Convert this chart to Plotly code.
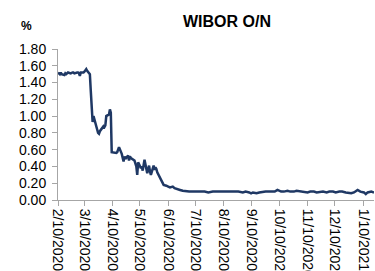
import plotly.graph_objects as go

dates = [
    "2020-02-10", "2020-02-11", "2020-02-12", "2020-02-13", "2020-02-14",
    "2020-02-17", "2020-02-18", "2020-02-19", "2020-02-20", "2020-02-21",
    "2020-02-24", "2020-02-25", "2020-02-26", "2020-02-27", "2020-02-28",
    "2020-03-02", "2020-03-03", "2020-03-04", "2020-03-05", "2020-03-06",
    "2020-03-09", "2020-03-10", "2020-03-11", "2020-03-12", "2020-03-13",
    "2020-03-16", "2020-03-17", "2020-03-18", "2020-03-19", "2020-03-20",
    "2020-03-23", "2020-03-24", "2020-03-25", "2020-03-26", "2020-03-27",
    "2020-03-30", "2020-03-31", "2020-04-01", "2020-04-02", "2020-04-03",
    "2020-04-06", "2020-04-07", "2020-04-08", "2020-04-09", "2020-04-14",
    "2020-04-15", "2020-04-16", "2020-04-17", "2020-04-20", "2020-04-21",
    "2020-04-22", "2020-04-23", "2020-04-24", "2020-04-27", "2020-04-28",
    "2020-04-29", "2020-04-30", "2020-05-04", "2020-05-05", "2020-05-06",
    "2020-05-07", "2020-05-08", "2020-05-11", "2020-05-12", "2020-05-13",
    "2020-05-14", "2020-05-15", "2020-05-18", "2020-05-19", "2020-05-20",
    "2020-05-21", "2020-05-22", "2020-05-25", "2020-05-26", "2020-05-27",
    "2020-05-28", "2020-05-29", "2020-06-01", "2020-06-02", "2020-06-03",
    "2020-06-04", "2020-06-05", "2020-06-08", "2020-06-09", "2020-06-10",
    "2020-06-12", "2020-06-15", "2020-06-17", "2020-06-19", "2020-06-23",
    "2020-06-26", "2020-06-30", "2020-07-03", "2020-07-07", "2020-07-10",
    "2020-07-15", "2020-07-20", "2020-07-24", "2020-07-29", "2020-08-03",
    "2020-08-07", "2020-08-12", "2020-08-18", "2020-08-21", "2020-08-26",
    "2020-08-31", "2020-09-03", "2020-09-07", "2020-09-09", "2020-09-11",
    "2020-09-15", "2020-09-18", "2020-09-22", "2020-09-25", "2020-09-30",
    "2020-10-05", "2020-10-08", "2020-10-12", "2020-10-15", "2020-10-19",
    "2020-10-22", "2020-10-26", "2020-10-29", "2020-11-03", "2020-11-06",
    "2020-11-10", "2020-11-13", "2020-11-17", "2020-11-20", "2020-11-24",
    "2020-11-27", "2020-12-01", "2020-12-04", "2020-12-08", "2020-12-11",
    "2020-12-15", "2020-12-18", "2020-12-22", "2020-12-28", "2020-12-31",
    "2021-01-04", "2021-01-07", "2021-01-11", "2021-01-13", "2021-01-15",
    "2021-01-19", "2021-01-22",
]

wibor_on = [
    1.50, 1.51, 1.50, 1.52, 1.50,
    1.49, 1.51, 1.50, 1.51, 1.52,
    1.51, 1.52, 1.52, 1.52, 1.51,
    1.52, 1.52, 1.51, 1.48, 1.52,
    1.52, 1.53, 1.54, 1.56, 1.54,
    1.50, 1.30, 1.00, 0.93, 1.00,
    0.90, 0.84, 0.80, 0.79, 0.82,
    0.86, 0.88, 0.87, 0.89, 1.00,
    1.02, 1.08, 1.04, 0.57, 0.56,
    0.57, 0.60, 0.63, 0.55, 0.50,
    0.46, 0.52, 0.49, 0.53, 0.47,
    0.52, 0.50, 0.47, 0.44, 0.40,
    0.30, 0.45, 0.38, 0.40, 0.35,
    0.42, 0.48, 0.32, 0.36, 0.41,
    0.34, 0.30, 0.41, 0.36, 0.39,
    0.37, 0.33, 0.26, 0.23, 0.21,
    0.19, 0.18, 0.17, 0.16, 0.16,
    0.15, 0.16, 0.14, 0.13, 0.12,
    0.11, 0.10, 0.10, 0.10, 0.10,
    0.10, 0.10, 0.09, 0.10, 0.10,
    0.10, 0.10, 0.10, 0.10, 0.10,
    0.09, 0.10, 0.09, 0.08, 0.09,
    0.08, 0.09, 0.10, 0.10, 0.10,
    0.10, 0.12, 0.10, 0.10, 0.11,
    0.10, 0.10, 0.11, 0.10, 0.10,
    0.09, 0.10, 0.10, 0.09, 0.10,
    0.10, 0.09, 0.10, 0.10, 0.09,
    0.10, 0.10, 0.09, 0.08, 0.09,
    0.12, 0.10, 0.09, 0.07, 0.09,
    0.10, 0.09,
]

tick_dates = [
    "2020-02-10", "2020-03-10", "2020-04-10", "2020-05-10", "2020-06-10",
    "2020-07-10", "2020-08-10", "2020-09-10", "2020-10-10", "2020-11-10",
    "2020-12-10", "2021-01-10",
]
tick_labels = [
    "2/10/2020", "3/10/2020", "4/10/2020", "5/10/2020", "6/10/2020",
    "7/10/2020", "8/10/2020", "9/10/2020", "10/10/2020", "11/10/2020",
    "12/10/2020", "1/10/2021",
]

FONT = "Liberation Sans, Arial, sans-serif"
AXIS_GRAY = "#A6A6A6"

fig = go.Figure()
fig.add_trace(go.Scatter(
    x=dates, y=wibor_on, mode="lines",
    line=dict(color="#1F3864", width=2.5),
    showlegend=False, hoverinfo="skip",
))

fig.update_layout(
    width=375, height=271,
    margin=dict(l=58, r=1, t=49, b=71),
    paper_bgcolor="white", plot_bgcolor="white",
    font=dict(family=FONT, size=14, color="black"),
    title=dict(text="<b>WIBOR O/N</b>", x=0.6053, xanchor="center",
               y=0.9225, yanchor="middle",
               font=dict(family=FONT, size=16, color="black")),
    xaxis=dict(
        type="date", range=["2020-02-10", "2021-01-22"],
        tickvals=tick_dates, ticktext=tick_labels, tickangle=90,
        ticks="outside", ticklen=5, tickcolor=AXIS_GRAY, tickwidth=1,
        showline=True, linecolor=AXIS_GRAY, linewidth=1,
        showgrid=False, zeroline=False, automargin=False,
        tickfont=dict(family=FONT, size=14, color="black"),
    ),
    yaxis=dict(
        range=[0, 1.8], dtick=0.2, tick0=0, tickformat=".2f",
        ticks="outside", ticklen=5, tickcolor=AXIS_GRAY, tickwidth=1,
        showline=True, linecolor=AXIS_GRAY, linewidth=1,
        showgrid=False, zeroline=False, automargin=False,
        ticklabelstandoff=3,
        tickfont=dict(family=FONT, size=14, color="black"),
    ),
    annotations=[dict(
        text="<b>%</b>", xref="paper", yref="paper",
        x=-0.101, y=1.152, xanchor="center", yanchor="middle",
        showarrow=False, font=dict(family=FONT, size=12, color="black"),
    )],
)

fig.write_html(
    "out.html",
    config={"displayModeBar": False},
    post_script="document.body.style.margin='0';document.body.style.overflow='hidden';",
)
